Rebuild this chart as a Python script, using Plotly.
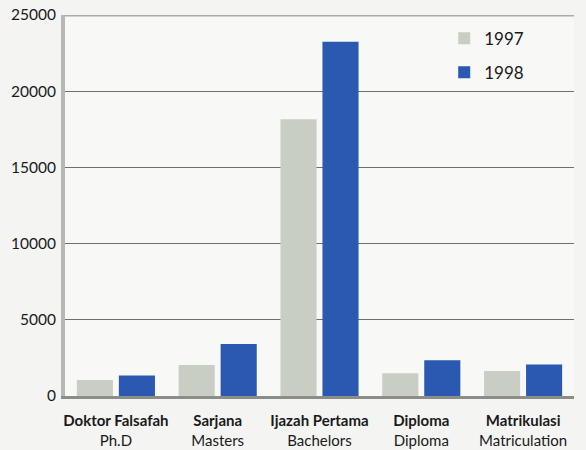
import plotly.graph_objects as go

categories_bold = ["Doktor Falsafah", "Sarjana", "Ijazah Pertama", "Diploma", "Matrikulasi"]
categories_en = ["Ph.D", "Masters", "Bachelors", "Diploma", "Matriculation"]
values_1997 = [1050, 2040, 18160, 1490, 1645]
values_1998 = [1340, 3420, 23250, 2350, 2060]
y_ticks = [0, 5000, 10000, 15000, 20000, 25000]
y_tick_text = ["0", "5000", "10000", "15000", "20000", "25000"]

labels = [f"<b>{b}</b><br>{e}" for b, e in zip(categories_bold, categories_en)]

fig = go.Figure()
fig.add_trace(go.Bar(x=labels, y=values_1997, name="1997", legendgroup="a",
                     marker=dict(color="#c9cec5", line=dict(width=0))))
fig.add_trace(go.Bar(x=labels, y=values_1998, name="1998", legendgroup="b",
                     marker=dict(color="#2b59b2", line=dict(width=0))))

fig.update_layout(
    width=586, height=450,
    margin=dict(l=65, r=12, t=15, b=54),
    paper_bgcolor="#f4f4f2",
    plot_bgcolor="#f8f8f7",
    barmode="group",
    bargap=0.175,
    bargroupgap=0.14,
    font=dict(family="Lato, 'Open Sans', sans-serif", size=15, color="#1a1a1a"),
    showlegend=True,
    legend=dict(x=0.745, y=0.985, xanchor="left", yanchor="top",
                bgcolor="rgba(0,0,0,0)", font=dict(size=17), tracegroupgap=9),
    xaxis=dict(showgrid=False, showline=True, linecolor="#8a8d88", linewidth=3,
               ticks="", tickfont=dict(size=15), automargin=False,
               ticklabelstandoff=9),
    yaxis=dict(range=[0, 25000], tickvals=y_ticks, ticktext=y_tick_text, showgrid=True,
               gridcolor="#6f706c", gridwidth=1, zeroline=False,
               showline=True, linecolor="#b5b8b3", linewidth=4,
               ticks="", ticklabelstandoff=2, tickfont=dict(size=15.5), automargin=False),
)
fig.add_shape(type="line", xref="paper", yref="y", x0=0, x1=1, y0=25000, y1=25000,
              line=dict(color="#a9aca7", width=3))

fig.write_html(
    "out.html",
    config={"displayModeBar": False},
    post_script="document.body.style.margin='0';document.body.style.overflow='hidden';"
                "document.body.style.background='#f4f4f2';",
)
